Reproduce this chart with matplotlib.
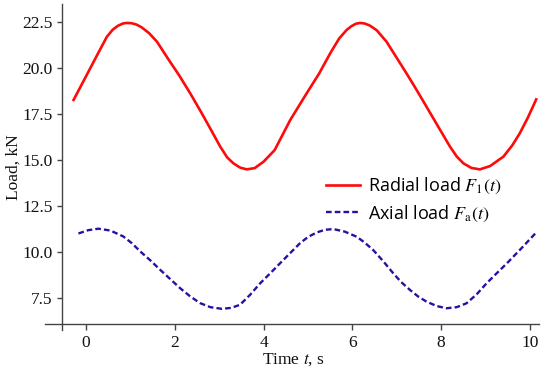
import matplotlib
matplotlib.use("Agg")
import matplotlib.pyplot as plt

# ---- data ----
t_radial = [-0.28, 0.0, 0.25, 0.47, 0.6, 0.72, 0.83, 0.92, 1.02, 1.13, 1.25, 1.42, 1.6, 1.85,
            2.1, 2.35, 2.6, 2.85, 3.02, 3.18, 3.32, 3.47, 3.62, 3.8, 4.0, 4.25,
            4.6, 4.97, 5.25, 5.5, 5.7, 5.87, 5.98, 6.08, 6.17, 6.28, 6.4, 6.55, 6.77, 7.0,
            7.22, 7.45, 7.67, 7.95, 8.2, 8.35, 8.5, 8.68, 8.87, 9.1, 9.4, 9.6,
            9.77, 9.95, 10.14]
f_radial = [18.27, 19.55, 20.7, 21.7, 22.08, 22.3, 22.42, 22.45, 22.44, 22.37, 22.22, 21.9, 21.43, 20.5,
            19.6, 18.62, 17.58, 16.5, 15.75, 15.15, 14.83, 14.6, 14.5, 14.57, 14.92, 15.55,
            17.18, 18.63, 19.7, 20.8, 21.6, 22.07, 22.28, 22.41, 22.45, 22.42, 22.3, 22.05, 21.43, 20.55,
            19.71, 18.8, 17.9, 16.75, 15.73, 15.2, 14.83, 14.58, 14.5, 14.68, 15.19, 15.8,
            16.46, 17.3, 18.3]

t_axial = [-0.17, 0.05, 0.28, 0.55, 0.84, 1.03, 1.22, 1.45, 1.67, 1.9, 2.12, 2.35,
           2.57, 2.8, 3.06, 3.27, 3.47, 3.7, 3.92, 4.15, 4.37, 4.6, 4.82, 5.0,
           5.2, 5.38, 5.57, 5.83, 6.1, 6.28, 6.47, 6.7, 6.92, 7.1, 7.3, 7.48,
           7.67, 7.9, 8.12, 8.35, 8.57, 8.8, 9.02, 9.25, 9.48, 9.8, 10.15]
f_axial = [11.02, 11.2, 11.28, 11.18, 10.86, 10.5, 10.05, 9.56, 9.05, 8.54, 8.05, 7.6,
           7.24, 7.02, 6.93, 6.98, 7.15, 7.7, 8.31, 8.86, 9.4, 9.96, 10.49, 10.83,
           11.08, 11.22, 11.26, 11.12, 10.84, 10.52, 10.12, 9.5, 8.86, 8.38, 7.95, 7.6,
           7.32, 7.08, 6.96, 7.02, 7.23, 7.72, 8.31, 8.86, 9.4, 10.2, 11.1]

radial_label = r"Radial load $F_{\rm 1}(t)$"
axial_label = r"Axial load $F_{\rm a}(t)$"
xlabel = r"Time $t$, s"
ylabel = "Load, kN"
xticks = [0, 2, 4, 6, 8, 10]
yticks = [7.5, 10.0, 12.5, 15.0, 17.5, 20.0, 22.5]

plt.rcParams["mathtext.fontset"] = "stix"
plt.rcParams["font.family"] = ["Liberation Serif", "DejaVu Serif"]

W, H = 550, 379
fig = plt.figure(figsize=(W / 100, H / 100), dpi=100)
# axes box in pixels: x 45..539, y 4..330 (from top)
ax = fig.add_axes([45 / W, 1 - 330 / H, 494 / W, 326 / H])
ax.set_xlim(-0.923, 10.203)
ax.set_ylim(5.78, 23.48)

ax.plot(t_radial, f_radial, color="#ff0a0a", lw=1.9, label=radial_label,
        solid_joinstyle="round")
ax.plot(t_axial, f_axial, color="#2412a4", lw=1.7, linestyle=(0, (2.4, 1.3)),
        label=axial_label)

for s in ("top", "right"):
    ax.spines[s].set_visible(False)
ax.spines["left"].set_position(("data", -0.54))
ax.spines["bottom"].set_position(("data", 6.1))
for s in ("left", "bottom"):
    ax.spines[s].set_color("#444444")
    ax.spines[s].set_linewidth(1.0)

ax.set_xticks(xticks)
ax.set_xticklabels([str(v) for v in xticks])
ax.set_yticks(yticks)
ax.set_yticklabels([f"{v:.1f}" for v in yticks])
ax.tick_params(axis="y", direction="out", length=3.8, width=1.0, color="#444444",
               labelsize=12.5, pad=3.0, labelcolor="#111111")
ax.tick_params(axis="x", direction="out", length=4.4, width=1.0, color="#444444",
               labelsize=12.5, pad=3.5, labelcolor="#111111")

ax.set_ylabel(ylabel, fontsize=12.5, color="#111111")
ax.yaxis.set_label_coords(-0.047, 0.5)
ax.set_xlabel(xlabel, fontsize=12.5, color="#111111")
ax.xaxis.set_label_coords(0.502, -0.064)

leg = ax.legend(loc="upper left", bbox_to_anchor=(326 / W, 1 - 176 / H),
                bbox_transform=fig.transFigure, frameon=False, borderpad=0,
                borderaxespad=0, handlelength=1.9, handletextpad=0.45,
                labelspacing=0.4,
                prop={"family": ["Open Sans", "DejaVu Sans"], "size": 13})

fig.savefig("out.png", dpi=100)
